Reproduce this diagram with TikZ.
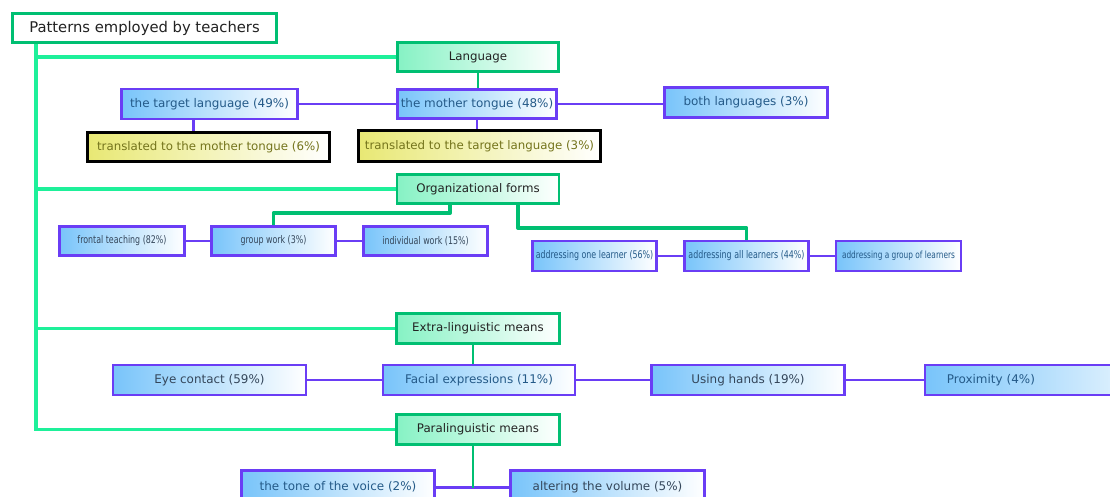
\documentclass[tikz,border=0pt]{standalone}
\usepackage{fontspec}
\setmainfont{DejaVu Sans}
\newfontfamily\narrowfont{DejaVu Sans}[FakeStretch=0.75]
\usetikzlibrary{calc}

\definecolor{trunkgreen}{HTML}{1EF09A}
\definecolor{boxgreen}{HTML}{00BF72}
\definecolor{fillgreen}{HTML}{86F2C4}
\definecolor{purpleline}{HTML}{6A3DF5}
\definecolor{bluefill}{HTML}{78C4FA}
\definecolor{yellowfill}{HTML}{E8E874}
\definecolor{textblue}{HTML}{245A88}
\definecolor{textgray}{HTML}{34465A}
\definecolor{textolive}{HTML}{74741C}
\definecolor{textdark}{HTML}{222222}

\def\pxu{0.025cm}

\tikzset{
    box/.style={rectangle, inner sep=0pt, minimum height=30*\pxu, line width=2.1pt},
    rootbox/.style={box, draw=boxgreen, fill=white, text=textdark, font=\fontsize{10.5}{12}\selectfont},
    greenbox/.style={box, draw=boxgreen, left color=fillgreen, right color=white, text=textdark, font=\fontsize{8.4}{10}\selectfont},
    bluebox/.style={box, draw=purpleline, left color=bluefill, right color=white, text=textblue, font=\fontsize{8.5}{10}\selectfont},
    narrowbox/.style={bluebox, font=\narrowfont\fontsize{7.5}{9}\selectfont},
    yellowbox/.style={box, draw=black, line width=2.5pt, left color=yellowfill, right color=white, text=textolive, font=\fontsize{8.4}{10}\selectfont},
    cutbox/.style={bluebox, minimum height=40*\pxu, text depth=10*\pxu},
    trunk/.style={draw=trunkgreen, line width=2.8pt},
    elbow/.style={draw=boxgreen, line width=2.8pt, line join=round},
    stem/.style={draw=boxgreen, line width=1.9pt},
    link/.style={draw=purpleline, line width=2pt}
}

\begin{document}
\begin{tikzpicture}[x=0.025cm, y=-0.025cm]
    \useasboundingbox (0,0) rectangle (1110,497);
    \fill[white] (0,0) rectangle (1110,497);
    \clip (0,0) rectangle (1110,497);

    % Root
    \node[rootbox, minimum width=264*\pxu, minimum height=29*\pxu] (root) at (144.5,28) {Patterns employed by teachers};

    % Language: 49% / 48% / 3%
    \node[greenbox, minimum width=161*\pxu, minimum height=29*\pxu] (lang) at (478,57) {Language};
    \node[bluebox, minimum width=159*\pxu, minimum height=29*\pxu] (mother) at (477,104) {the mother tongue (48\%)};
    \node[bluebox, minimum width=176*\pxu] (target) at (209.5,104) {the target language (49\%)};
    \node[bluebox, minimum width=163*\pxu] (both) at (746,102.5) {both languages (3\%)};
    \node[yellowbox, minimum width=242*\pxu, minimum height=29*\pxu] (trmother) at (208.5,147) {translated to the mother tongue (6\%)};
    \node[yellowbox, minimum width=242*\pxu, minimum height=31*\pxu] (trtarget) at (479.5,146) {translated to the target language (3\%)};

    % Organizational forms
    \node[greenbox, minimum width=162*\pxu, minimum height=29*\pxu] (org) at (478,189) {Organizational forms};
    \node[narrowbox, text=textgray, minimum width=125*\pxu, minimum height=29*\pxu] (frontal) at (122,241) {frontal teaching (82\%)};
    \node[narrowbox, text=textgray, minimum width=124*\pxu, minimum height=29*\pxu] (group) at (273.5,241) {group work (3\%)};
    \node[narrowbox, text=textgray, minimum width=124*\pxu, minimum height=29*\pxu] (indiv) at (425.5,241) {individual work (15\%)};
    \node[narrowbox, minimum width=124*\pxu] (one) at (594.5,256) {addressing one learner (56\%)};
    \node[narrowbox, minimum width=124*\pxu] (all) at (746.5,256) {addressing all learners (44\%)};
    \node[narrowbox, font=\narrowfont\fontsize{7}{8}\selectfont, minimum width=125*\pxu] (grp) at (898.5,256) {addressing a group of learners};

    % Extra-linguistic means
    \node[greenbox, minimum width=163*\pxu] (extra) at (478,328.5) {Extra-linguistic means};
    \node[bluebox, text=textgray, minimum width=193*\pxu] (eye) at (209.5,380) {Eye contact (59\%)};
    \node[bluebox, minimum width=192*\pxu] (facial) at (479,380) {Facial expressions (11\%)};
    \node[bluebox, text=textgray, minimum width=193*\pxu] (hands) at (748,380) {Using hands (19\%)};
    \node[bluebox, inner xsep=0.55cm, text width=5.4cm, align=left] (prox) at (1055,380) {Proximity (4\%)};

    % Paralinguistic means
    \node[greenbox, minimum width=163*\pxu] (para) at (478,429.5) {Paralinguistic means};
    \node[cutbox, minimum width=193*\pxu] (tone) at (338,490.5) {the tone of the voice (2\%)};
    \node[cutbox, text=textgray, minimum width=194*\pxu] (volume) at (607.5,490.5) {altering the volume (5\%)};

    % Trunk
    \draw[trunk] (root.south west) ++(25,0) coordinate (tk) |- (para.west);
    \draw[trunk] (tk) |- (lang.west);
    \draw[trunk] (tk) |- (org.west);
    \draw[trunk] (tk) |- (extra.west);

    % Language links
    \draw[stem] (lang.south) -- (lang.south |- mother.north);
    \draw[link] (target.east) -- (mother.west);
    \draw[link] (mother.east) -- (mother.east -| both.west);
    \draw[link] ($(target.south)+(-16,0)$) coordinate (t1) -- (t1 |- trmother.north);
    \draw[link] (mother.south) -- (mother.south |- trtarget.north);

    % Organizational links
    \draw[elbow] ($(org.south)+(-28,0)$) -- ++(0,8) -| (group.north);
    \draw[elbow] ($(org.south)+(40,0)$) -- ++(0,23) -| (all.north);
    \draw[link] (frontal.east) -- (group.west);
    \draw[link] (group.east) -- (indiv.west);
    \draw[link] (one.east) -- (all.west);
    \draw[link] (all.east) -- (grp.west);

    % Extra-linguistic links
    \draw[stem] ($(extra.south)+(-5,0)$) coordinate (x1) -- (x1 |- facial.north);
    \draw[link] (eye.east) -- (facial.west);
    \draw[link] (facial.east) -- (hands.west);
    \draw[link] (hands.east) -- (prox.west);

    % Paralinguistic links
    \draw[link] ($(tone.east)+(0,-3)$) coordinate (v1) -- ($(volume.west)+(0,-3)$);
    \draw[stem] ($(para.south)+(-5,0)$) coordinate (p1) -- (p1 |- v1);
\end{tikzpicture}
\end{document}
